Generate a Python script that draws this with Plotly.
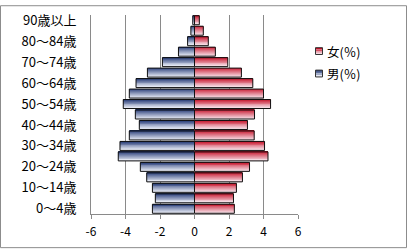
import plotly.graph_objects as go

categories = ["0～4歳", "5～9歳", "10～14歳", "15～19歳", "20～24歳", "25～29歳",
              "30～34歳", "35～39歳", "40～44歳", "45～49歳", "50～54歳", "55～59歳",
              "60～64歳", "65～69歳", "70～74歳", "75～79歳", "80～84歳", "85～89歳",
              "90歳以上"]
male = [-2.44, -2.27, -2.44, -2.77, -3.14, -4.42, -4.32, -3.78, -3.20, -3.43,
        -4.13, -3.78, -3.39, -2.73, -1.86, -0.93, -0.40, -0.21, -0.10]
female = [2.31, 2.26, 2.43, 2.78, 3.19, 4.26, 4.06, 3.46, 3.07, 3.48,
          4.41, 4.00, 3.38, 2.72, 1.93, 1.21, 0.80, 0.51, 0.28]
x_ticks = [-6, -4, -2, 0, 2, 4, 6]
y_ticks = categories[::2]
name_f = "女(％)"
name_m = "男(％)"

W, H = 407, 249
L, R, T, B = 91, 109, 10, 35
PW, PH = W - L - R, H - T - B

def px(xp):
    return (xp - L) / PW

def py(yp):
    return (H - B - yp) / PH

FONT = "Noto Sans CJK JP, Noto Sans, sans-serif"
BAR_W = 0.86
N = 10

def lerp(c1, c2, t):
    return "rgb(%d,%d,%d)" % tuple(round(a + (b - a) * t) for a, b in zip(c1, c2))

fig = go.Figure()

def add_series(vals, dark, light):
    # gradient strips (top dark -> bottom light)
    for k in range(N):
        t = k / (N - 1)
        fig.add_trace(go.Bar(
            y=categories, x=vals, orientation="h",
            width=BAR_W / N * 1.02, offset=BAR_W / 2 - (k + 1) * BAR_W / N,
            marker=dict(color=lerp(dark, light, t ** 0.9), line=dict(width=0)),
            showlegend=False, hoverinfo="skip"))
    fig.add_trace(go.Bar(
        y=categories, x=vals, orientation="h",
        width=BAR_W, offset=-BAR_W / 2,
        marker=dict(color="rgba(0,0,0,0)", line=dict(color="#111111", width=1)),
        showlegend=False))

M_DARK, M_LIGHT = (28, 50, 112), (226, 230, 242)
F_DARK, F_LIGHT = (196, 12, 36), (246, 218, 226)
add_series(male, M_DARK, M_LIGHT)
add_series(female, F_DARK, F_LIGHT)

shapes = [dict(type="rect", xref="paper", yref="paper",
               x0=px(0.5), x1=px(W - 0.5), y0=py(H - 0.5), y1=py(0.5),
               line=dict(color="#8c8c8c", width=1), layer="below")]
annotations = []
for name, cy, dark, light in [(name_f, 47, F_DARK, F_LIGHT), (name_m, 70, M_DARK, M_LIGHT)]:
    steps = 4
    for s in range(steps):
        t = s / (steps - 1)
        shapes.append(dict(type="rect", xref="paper", yref="paper",
                           x0=px(315.5), x1=px(322.5),
                           y0=py(cy - 3.5 + 7 * (s + 1) / steps), y1=py(cy - 3.5 + 7 * s / steps),
                           line=dict(width=0), fillcolor=lerp(dark, light, t)))
    shapes.append(dict(type="rect", xref="paper", yref="paper",
                       x0=px(315.5), x1=px(322.5), y0=py(cy + 3.5), y1=py(cy - 3.5),
                       line=dict(color="#333333", width=1), fillcolor="rgba(0,0,0,0)"))
    annotations.append(dict(xref="paper", yref="paper", x=px(325), y=py(cy),
                            text=name, showarrow=False, xanchor="left", yanchor="middle",
                            font=dict(family=FONT, size=12.5, color="#000000")))

fig.update_layout(
    width=W, height=H,
    margin=dict(l=L, r=R, t=T, b=B),
    paper_bgcolor="white", plot_bgcolor="white",
    barmode="overlay",
    showlegend=False,
    font=dict(family=FONT, size=12, color="#000000"),
    xaxis=dict(range=[-6, 6], tickvals=x_ticks, ticktext=[str(v) for v in x_ticks],
               showgrid=True, gridcolor="#8a8a8a", gridwidth=1,
               zeroline=True, zerolinecolor="#8a8a8a", zerolinewidth=1,
               showline=True, linecolor="#8a8a8a", linewidth=1,
               ticks="outside", ticklen=4, tickcolor="#8a8a8a",
               ticklabelstandoff=3, fixedrange=True),
    yaxis=dict(type="category", categoryorder="array", categoryarray=categories,
               range=[-0.5, len(categories) - 0.5],
               tickvals=y_ticks, ticktext=y_ticks, tickfont=dict(size=13),
               showgrid=False, zeroline=False, showline=True, linecolor="#8a8a8a",
               linewidth=1, ticks="", mirror=False,
               ticklabelstandoff=11, fixedrange=True),
    shapes=shapes, annotations=annotations,
)

fig.write_html("out.html")
